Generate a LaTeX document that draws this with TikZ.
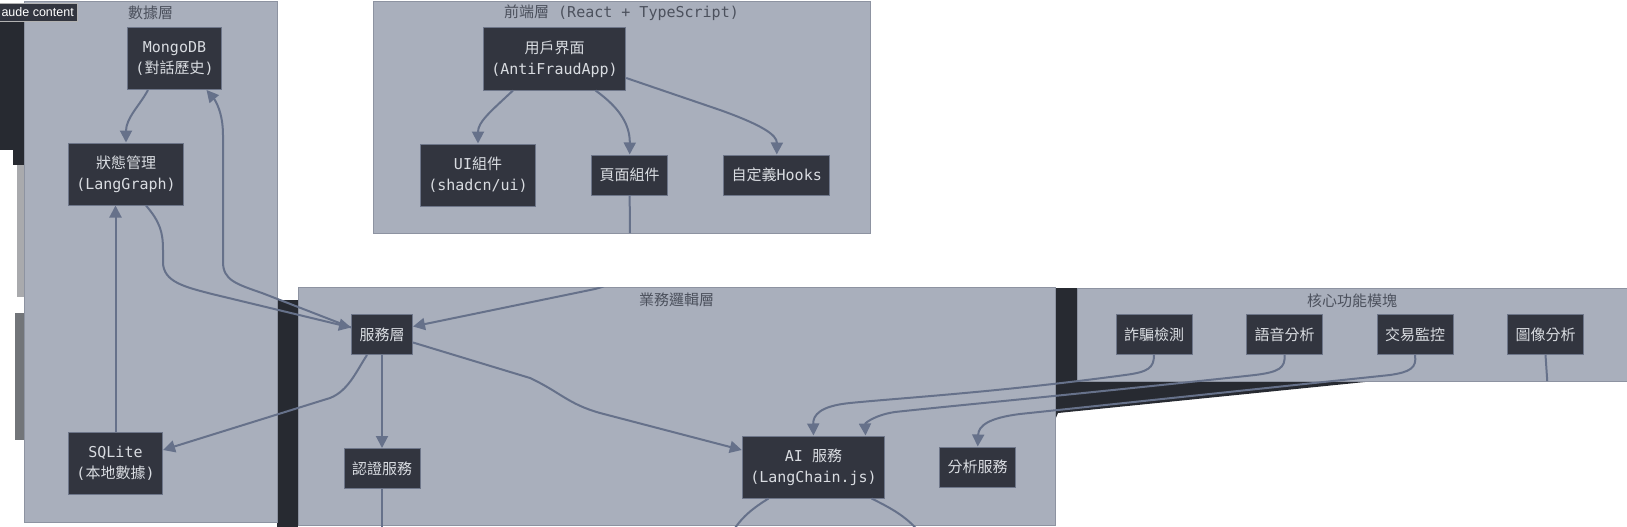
\documentclass[tikz,border=0pt]{standalone}
\usepackage{fontspec}
\setmainfont{Liberation Sans}
\setmonofont{DejaVu Sans Mono}
\newfontfamily\cjk{Noto Sans CJK TC}
\usetikzlibrary{positioning,arrows.meta}

\definecolor{clusterbg}{HTML}{A9AFBC}
\definecolor{clusterline}{HTML}{8D93A1}
\definecolor{nodebg}{HTML}{32353F}
\definecolor{nodeline}{HTML}{6E7689}
\definecolor{nodetext}{HTML}{D9DCE1}
\definecolor{edgecol}{HTML}{66718A}
\definecolor{titlecol}{HTML}{4C515D}
\definecolor{darkbar}{HTML}{272A31}

\begin{document}
\begin{tikzpicture}[x=1pt,y=-1pt,>={Triangle[length=12pt,width=12pt]}]
\tikzstyle{cluster}=[fill=clusterbg,draw=clusterline,line width=1pt]
\tikzstyle{box}=[draw=nodeline,fill=nodebg,text=nodetext,line width=1pt,align=center,font=\fontsize{15}{21}\selectfont\ttfamily,inner xsep=8pt,inner ysep=3pt,minimum height=40pt]
\tikzstyle{tallbox}=[box,minimum height=62pt]
\tikzstyle{title}=[text=titlecol,font=\fontsize{15}{18}\selectfont\ttfamily]
\tikzstyle{link}=[->,draw=edgecol,line width=2pt]
\tikzstyle{stub}=[draw=edgecol,line width=2pt]
\useasboundingbox (0,0) rectangle (1627,527);
% shadows and layer frames
\fill[darkbar] (0,21) rectangle (24,150);
\fill[darkbar] (13,150) rectangle (24,165);
\fill[darkbar!40!white] (17,165) rectangle (24,297);
\fill[darkbar!65!white] (15,313) rectangle (24,440);
\fill[darkbar] (277,300) rectangle (298,527);
\fill[darkbar] (1055,288) rectangle (1077,381);
\fill[darkbar] (1055,381) -- (1375,381) -- (1058,413) -- (1055,420) -- cycle;
\draw[cluster] (24,2) rectangle (277,522);
\draw[cluster] (373,2) rectangle (870,233);
\draw[cluster] (298,287) rectangle (1055,525);
\draw[cluster] (1077,288) rectangle (1640,381);
\node[title] (datatitle) at (150.5,13) {{\cjk 數據層}};
\node[title] (fronttitle) at (621.5,13) {{\cjk 前端層} (React + TypeScript)};
\node[title] (biztitle) at (676.5,300) {{\cjk 業務邏輯層}};
\node[title] (coretitle) at (1352,301) {{\cjk 核心功能模塊}};
\node[fill=nodebg,draw=gray!60,text=white,font=\fontsize{12.5}{12.5}\selectfont,anchor=east,inner xsep=3pt,inner ysep=2pt,minimum height=18pt] (tag) at (77,12) {aude content};
% data layer
\node[tallbox] (mongo) at (174.5,58.5) {MongoDB\\({\cjk 對話歷史})};
\node[tallbox] (state) at (126,174) {{\cjk 狀態管理}\\(LangGraph)};
\node[tallbox] (sqlite) at (115.5,463) {SQLite\\({\cjk 本地數據})};
% front end
\node[tallbox] (app) at (554.5,59) {{\cjk 用戶界面}\\(AntiFraudApp)};
\node[tallbox] (ui) at (478,175) {UI{\cjk 組件}\\(shadcn/ui)};
\node[box,right=55pt of ui] (page) {{\cjk 頁面組件}};
\node[box,right=55pt of page] (hooks) {{\cjk 自定義}Hooks};
% business logic
\node[box] (service) at (382,334.5) {{\cjk 服務層}};
\node[box,below=93pt of service] (auth) {{\cjk 認證服務}};
\node[tallbox] (ai) at (813.5,467) {AI {\cjk 服務}\\(LangChain.js)};
\node[box,right=54pt of ai] (analysis) {{\cjk 分析服務}};
% core modules
\node[box] (fraud) at (1154,334.5) {{\cjk 詐騙檢測}};
\node[box,right=53.5pt of fraud] (speech) {{\cjk 語音分析}};
\node[box,right=53.5pt of speech] (trade) {{\cjk 交易監控}};
\node[box,right=53.5pt of trade] (image) {{\cjk 圖像分析}};
\coordinate (authout) at (382,540);
\coordinate (aiout1) at (728,540);
\coordinate (aiout2) at (925,540);
\coordinate (imgout) at (1548.5,400);
\begin{scope}
\clip (24,2) rectangle (277,522) (373,2) rectangle (870,233) (277,287) rectangle (1055,527)
  (1055,288) rectangle (1627,381) (1055,381) -- (1375,381) -- (1058,413) -- (1055,420) -- cycle;
\draw[link] ([xshift=-26.5pt]mongo.south) .. controls (140,105) and (126,118) .. (state.north);
\draw[link] ([yshift=7pt]service.west) -- (262,293) .. controls (236,284) and (223,280) .. (223,262) -- (223,135) .. controls (223,112) and (215,100) .. ([xshift=32pt]mongo.south);
\draw[link] ([xshift=20pt]state.south) .. controls (160,222) and (163,232) .. (163,250) -- (163,262) .. controls (163,282) and (185,287) .. (212,294) -- ([yshift=7pt]service.west);
\draw[link] (sqlite.north) -- ([xshift=-10.5pt]state.south);
\draw[link] ([xshift=-15pt]service.south) .. controls (356,372) and (348,391) .. (330,398) -- ([yshift=13pt]sqlite.east);
\draw[link] (service.south) -- (auth.north);
\draw[link] ([yshift=-8pt]service.east) -- (530,378) .. controls (560,392) and (568,404) .. (600,413) -- ([yshift=17pt]ai.west);
\draw[link] (page.south) -- (630,245) .. controls (630,272) and (618,283) .. (595,289) -- ([yshift=8pt]service.east);
\draw[link] ([xshift=-41.5pt]app.south) .. controls (490,112) and (478,122) .. (ui.north);
\draw[link] ([xshift=41pt]app.south) .. controls (620,108) and (630,125) .. (page.north);
\draw[link] ([yshift=-19pt]app.east) -- (720,110) .. controls (762,125) and (777,135) .. (hooks.north);
\draw[link] (fraud.south) .. controls (1154,368) and (1148,372) .. (1125,375) .. controls (1000,392) and (900,398) .. (850,403) .. controls (820,406) and (813,415) .. (ai.north);
\draw[link] (speech.south) .. controls (1285.5,368) and (1279,372) .. (1255,375) .. controls (1100,392) and (950,406) .. (895,412) .. controls (875,415) and (865,423) .. ([xshift=52pt]ai.north);
\draw[link] (trade.south) .. controls (1417,368) and (1410,372) .. (1390,375) -- (1020,414) .. controls (988,418) and (978.5,426) .. (analysis.north);
\draw[stub] (auth.south) -- (authout);
\draw[stub] ([xshift=-45pt]ai.south) .. controls (750,510) and (738,520) .. (aiout1);
\draw[stub] ([xshift=58pt]ai.south) .. controls (895,510) and (912,520) .. (aiout2);
\draw[stub] (image.south) -- (imgout);
\end{scope}
\end{tikzpicture}
\end{document}
